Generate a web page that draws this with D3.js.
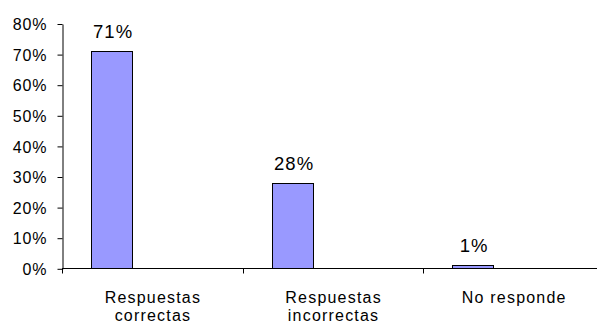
<!DOCTYPE html>
<html><head><meta charset="utf-8">
<script src="https://cdn.jsdelivr.net/npm/d3@7"></script>
<style>body{margin:0;background:#fff}svg{display:block}text{font-family:"Liberation Sans",Arial,sans-serif;fill:#000}</style>
</head><body><svg id="c" width="597" height="325"></svg>
<script>
const categories = [["Respuestas","correctas"],["Respuestas","incorrectas"],["No responde"]];
const values = [0.71, 0.28, 0.01];
const valueLabels = ["71%","28%","1%"];
const yTicks = [0,0.1,0.2,0.3,0.4,0.5,0.6,0.7,0.8];

(function(){
const svg = d3.select("#c");
const mLeft = 62, mRight = 604, mTop = 23.5, mBottom = 268.3;
const x = d3.scaleBand().domain(d3.range(categories.length)).range([mLeft, mRight]).padding(0);
const y = d3.scaleLinear().domain([0, 0.8]).range([mBottom, mTop]);
const bw = x.bandwidth();
const barOff = bw * 0.16, barW = bw * 0.228;

svg.append("g").selectAll("rect").data(values).join("rect")
  .attr("x", (d,i) => Math.round(x(i) + barOff) + 0.5)
  .attr("y", d => Math.round(y(d)) + 0.5)
  .attr("width", Math.round(barW))
  .attr("height", d => Math.max(0, Math.round(y(0)) - Math.round(y(d))))
  .attr("fill", "#9999FF").attr("stroke", "#000").attr("stroke-width", 1);

const yAxis = d3.axisLeft(y).tickValues(yTicks).tickFormat(d3.format(".0%")).tickSize(5).tickSizeOuter(0);
const gy = svg.append("g").attr("transform", `translate(${mLeft+0.5},0.5)`).call(yAxis);
gy.select(".domain").attr("stroke", "#000");
gy.selectAll(".tick line").attr("stroke", "#000");
gy.selectAll(".tick text").attr("x", -15).attr("dy", "0.36em")
  .style("font-size", "16px").style("letter-spacing", "0.9px").style("font-family", '"Liberation Sans",Arial,sans-serif');

const gx = svg.append("g").attr("transform", `translate(0,${Math.round(mBottom)+0.5})`);
gx.append("line").attr("x1", mLeft).attr("x2", 597).attr("stroke", "#000");
gx.selectAll("line.t").data(d3.range(categories.length)).join("line").attr("class","t")
  .attr("x1", i => Math.round(x(i)) + 0.5).attr("x2", i => Math.round(x(i)) + 0.5)
  .attr("y1", 0).attr("y2", 5).attr("stroke", "#000");

const cl = svg.append("g").selectAll("text").data(categories).join("text")
  .attr("text-anchor", "middle")
  .style("font-size", "16px").style("letter-spacing", "1.2px");
cl.each(function(lines, i) {
  const t = d3.select(this);
  lines.forEach((l, j) => t.append("tspan").attr("x", x(i) + bw/2 + 0.6).attr("y", 303 + j*17.5).text(l));
});

svg.append("g").selectAll("text").data(values).join("text")
  .attr("x", (d,i) => Math.round(x(i) + barOff) + barW/2 + 1.5)
  .attr("y", d => y(d) - 13)
  .attr("text-anchor", "middle")
  .style("font-size", "18.5px").style("letter-spacing", "1px")
  .text((d,i) => valueLabels[i]);
})();
</script></body></html>
